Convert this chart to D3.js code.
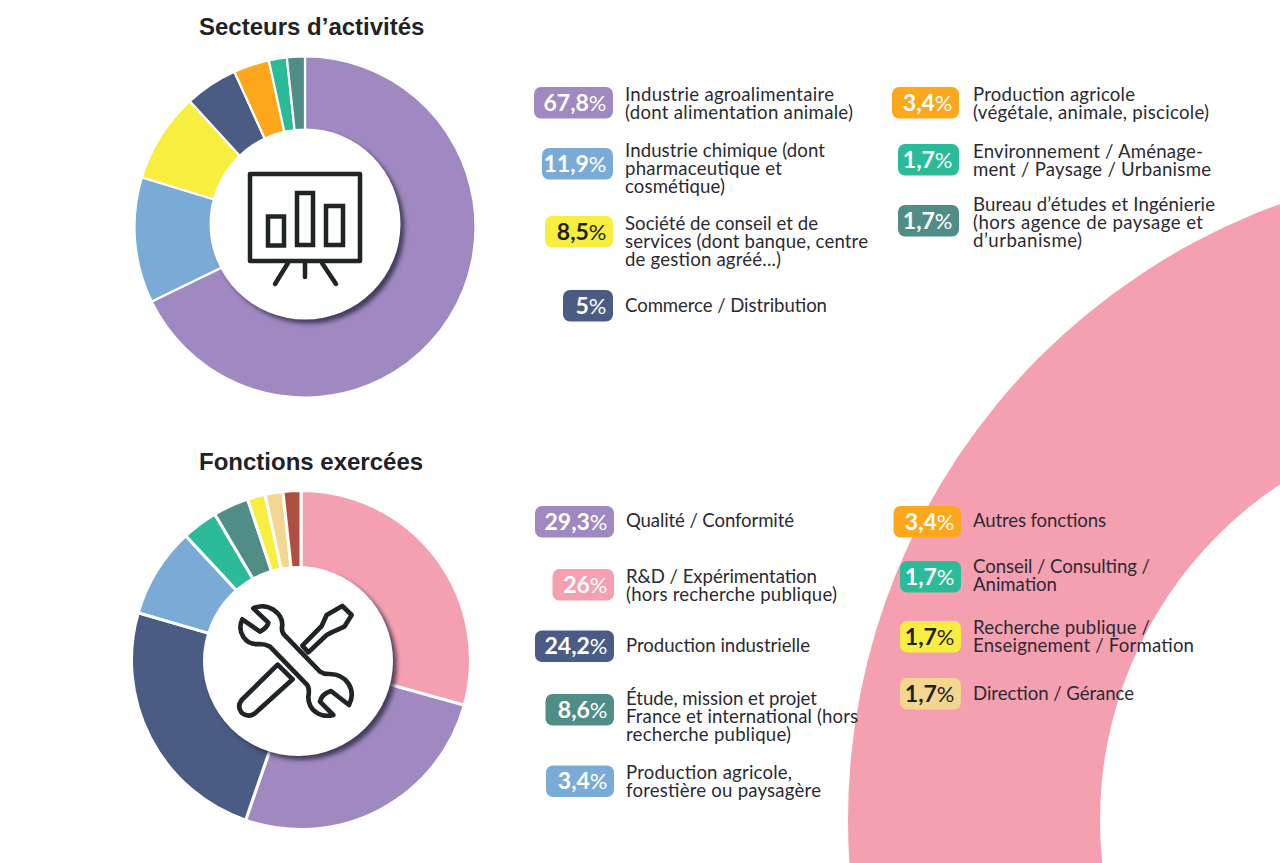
<!DOCTYPE html>
<html><head><meta charset="utf-8">
<script src="https://cdn.jsdelivr.net/npm/d3@7"></script>
<style>html,body{margin:0;padding:0;background:#fff;overflow:hidden}svg{display:block}</style>
</head><body><svg id="c" width="1280" height="863"></svg>
<script>
// ---------- data ----------
const sectorValues = [67.8, 11.9, 8.5, 5, 3.4, 1.7, 1.7];
const sectorColors = ["#9f89c0", "#7aabd6", "#f7ee3f", "#4a5c83", "#fda81c", "#2cbb98", "#518d87"];
const sectorLabels = [
  ["Industrie agroalimentaire", "(dont alimentation animale)"],
  ["Industrie chimique (dont", "pharmaceutique et", "cosmétique)"],
  ["Société de conseil et de", "services (dont banque, centre", "de gestion agréé...)"],
  ["Commerce / Distribution"],
  ["Production agricole", "(végétale, animale, piscicole)"],
  ["Environnement / Aménage-", "ment / Paysage / Urbanisme"],
  ["Bureau d’études et Ingénierie", "(hors agence de paysage et", "d’urbanisme)"]
];
const sectorPercent = ["67,8", "11,9", "8,5", "5", "3,4", "1,7", "1,7"];

const functionValues = [29.3, 26, 24.2, 8.6, 3.4, 3.4, 1.7, 1.7, 1.7];
const functionSliceColors = ["#f5a0b0", "#9f89c0", "#4a5c83", "#7aabd6", "#2cbb98", "#518d87", "#f7ee3f", "#f3d68f", "#b14e44"];
const functionPillColors = ["#9f89c0", "#f5a0b0", "#4a5c83", "#518d87", "#7aabd6", "#fda81c", "#2cbb98", "#f7ee3f", "#f3d68f"];
const functionPercent = ["29,3", "26", "24,2", "8,6", "3,4", "3,4", "1,7", "1,7", "1,7"];
const functionLabels = [
  ["Qualité / Conformité"],
  ["R&D / Expérimentation", "(hors recherche publique)"],
  ["Production industrielle"],
  ["Étude, mission et projet", "France et international (hors", "recherche publique)"],
  ["Production agricole,", "forestière ou paysagère"],
  ["Autres fonctions"],
  ["Conseil / Consulting /", "Animation"],
  ["Recherche publique /", "Enseignement / Formation"],
  ["Direction / Gérance"]
];

// ---------- layout ----------
const sectorPillTop = [87, 148, 216, 290, 87, 144, 205];
const sectorPillLeft = [534, 542, 545, 563, 892, 898, 898];
const sectorTextBase = [101, 156.7, 230, 311.7, 101, 157.7, 210.6];
const sectorPillRight = [613, 613, 613, 613, 959, 959, 959];
const sectorTextX = [625, 625, 625, 625, 973, 973, 973];
const sectorLineWidths = [[209, 228], [200, 157, 100], [193, 243, 156], [202], [162, 236], [230, 238], [242, 230, 109]];
const functionPillTop = [506, 569, 630.5, 694, 765.5, 506, 561, 621, 678];
const functionPillLeft = [535, 552.5, 535, 545.5, 546, 893.5, 900, 900, 900];
const functionTextBase = [526.7, 583.3, 651.7, 705, 779, 527.3, 572.7, 634, 699.7];
const functionPillRight = [614, 614, 614, 614, 614, 961, 961, 961, 961];
const functionTextX = [626, 626, 626, 626, 626, 973, 973, 973, 973];
const functionLineWidths = [[168], [191, 211], [184], [191, 232, 165], [166, 195], [133], [177, 84], [177, 221], [161]];

const FONT = "Lato, sans-serif";
const svg = d3.select("#c");

// background ring
svg.append("path")
  .attr("transform", "translate(1503,820)")
  .attr("fill", "#f5a0b0")
  .attr("d", d3.arc()({innerRadius: 403, outerRadius: 655, startAngle: 0, endAngle: 2 * Math.PI}));

function title(t, x, y) {
  svg.append("text").attr("x", x).attr("y", y).text(t)
    .attr("font-family", "Liberation Sans, Arial, sans-serif")
    .attr("font-weight", 700).attr("font-size", 24).attr("fill", "#222226");
}
title("Secteurs d’activités", 199, 34.5);
title("Fonctions exercées", 199, 470);

function donut(values, colors, cx, cy, r, ix, iy, ir, sw) {
  const pie = d3.pie().sort(null).value(d => d)(values);
  const arc = d3.arc().innerRadius(ir - 12).outerRadius(r);
  const g = svg.append("g").attr("transform", `translate(${cx},${cy})`);
  g.selectAll("path").data(pie).join("path")
    .attr("d", arc).attr("fill", (d, i) => colors[i])
    .attr("stroke", "#fff").attr("stroke-width", sw);
  svg.append("circle").attr("cx", ix).attr("cy", iy).attr("r", ir).attr("fill", "#fff")
    .style("filter", "drop-shadow(4px 4px 2px rgba(50,40,70,.8))");
}
donut(sectorValues, sectorColors, 305, 227, 170.5, 305, 224, 95.5, 2.2);
donut(functionValues, functionSliceColors, 301, 660, 169.5, 298, 661, 95, 3);

function legend(percent, labels, colors, pillTop, pillLeft, textBase, pillRight, textX, lineWidths) {
  percent.forEach((p, i) => {
    const dark = colors[i] === "#f7ee3f" || colors[i] === "#f3d68f";
    const g = svg.append("g");
    g.append("rect").attr("x", pillLeft[i]).attr("width", pillRight[i] - pillLeft[i])
      .attr("y", pillTop[i]).attr("height", 31.5).attr("rx", 7).attr("fill", colors[i]);
    const t = g.append("text").attr("x", pillRight[i] - 6.5).attr("y", pillTop[i] + 23.5)
      .attr("text-anchor", "end").attr("font-family", FONT)
      .attr("fill", dark ? "#1f1f1f" : "#fff").attr("font-size", 23);
    t.append("tspan").attr("font-weight", 700).text(p);
    t.append("tspan").attr("font-size", 22).attr("font-weight", 400).text("%");
    labels[i].forEach((line, j) => {
      g.append("text").attr("x", textX[i]).attr("y", textBase[i] + j * 18).text(line)
        .attr("font-family", FONT).attr("font-size", 18.6).attr("fill", "#2b2a33")
        .attr("textLength", lineWidths[i][j]).attr("lengthAdjust", "spacing");
    });
  });
}
legend(sectorPercent, sectorLabels, sectorColors, sectorPillTop, sectorPillLeft, sectorTextBase, sectorPillRight, sectorTextX, sectorLineWidths);
legend(functionPercent, functionLabels, functionPillColors, functionPillTop, functionPillLeft, functionTextBase, functionPillRight, functionTextX, functionLineWidths);

// icons
const ink = "#1f2427";
const board = svg.append("g").attr("fill", "none").attr("stroke", ink).attr("stroke-width", 4.5);
board.append("rect").attr("x", 250).attr("y", 174).attr("width", 110).attr("height", 87).attr("stroke-linejoin", "round");
[[268, 216.5, 16, 29], [297, 193, 16, 52], [326, 206, 17, 39]].forEach(b =>
  board.append("rect").attr("x", b[0]).attr("y", b[1]).attr("width", b[2]).attr("height", b[3]));
[[288, 263, 275, 284], [305, 263, 305, 277], [322, 263, 336, 284]].forEach(l =>
  board.append("line").attr("x1", l[0]).attr("y1", l[1]).attr("x2", l[2]).attr("y2", l[3]).attr("stroke-linecap", "round"));

const tools = svg.append("g").attr("transform", "translate(225,590) scale(0.3333)")
  .attr("fill", "none").attr("stroke", ink).attr("stroke-width", 14).attr("stroke-linejoin", "round");
tools.append("path").attr("d", "M85,55 L130,98 Q128,112 105,125 L52,88 C35,125 60,168 105,162 Q120,162 135,170 L245,283 Q255,295 250,320 C250,360 285,385 325,375 L285,335 Q290,312 318,303 L372,345 C395,300 365,250 310,252 Q295,252 285,245 L178,135 Q168,125 172,105 C172,70 130,35 85,55 Z");
tools.append("path").attr("d", "M232,167 L290,108 L305,75 L352,48 L380,75 L358,110 L320,127 L305,135 L250,187 Z");
tools.append("path").attr("d", "M158,224 L50,330 Q35,350 50,368 Q70,385 90,370 L203,268 Z");
</script></body></html>
